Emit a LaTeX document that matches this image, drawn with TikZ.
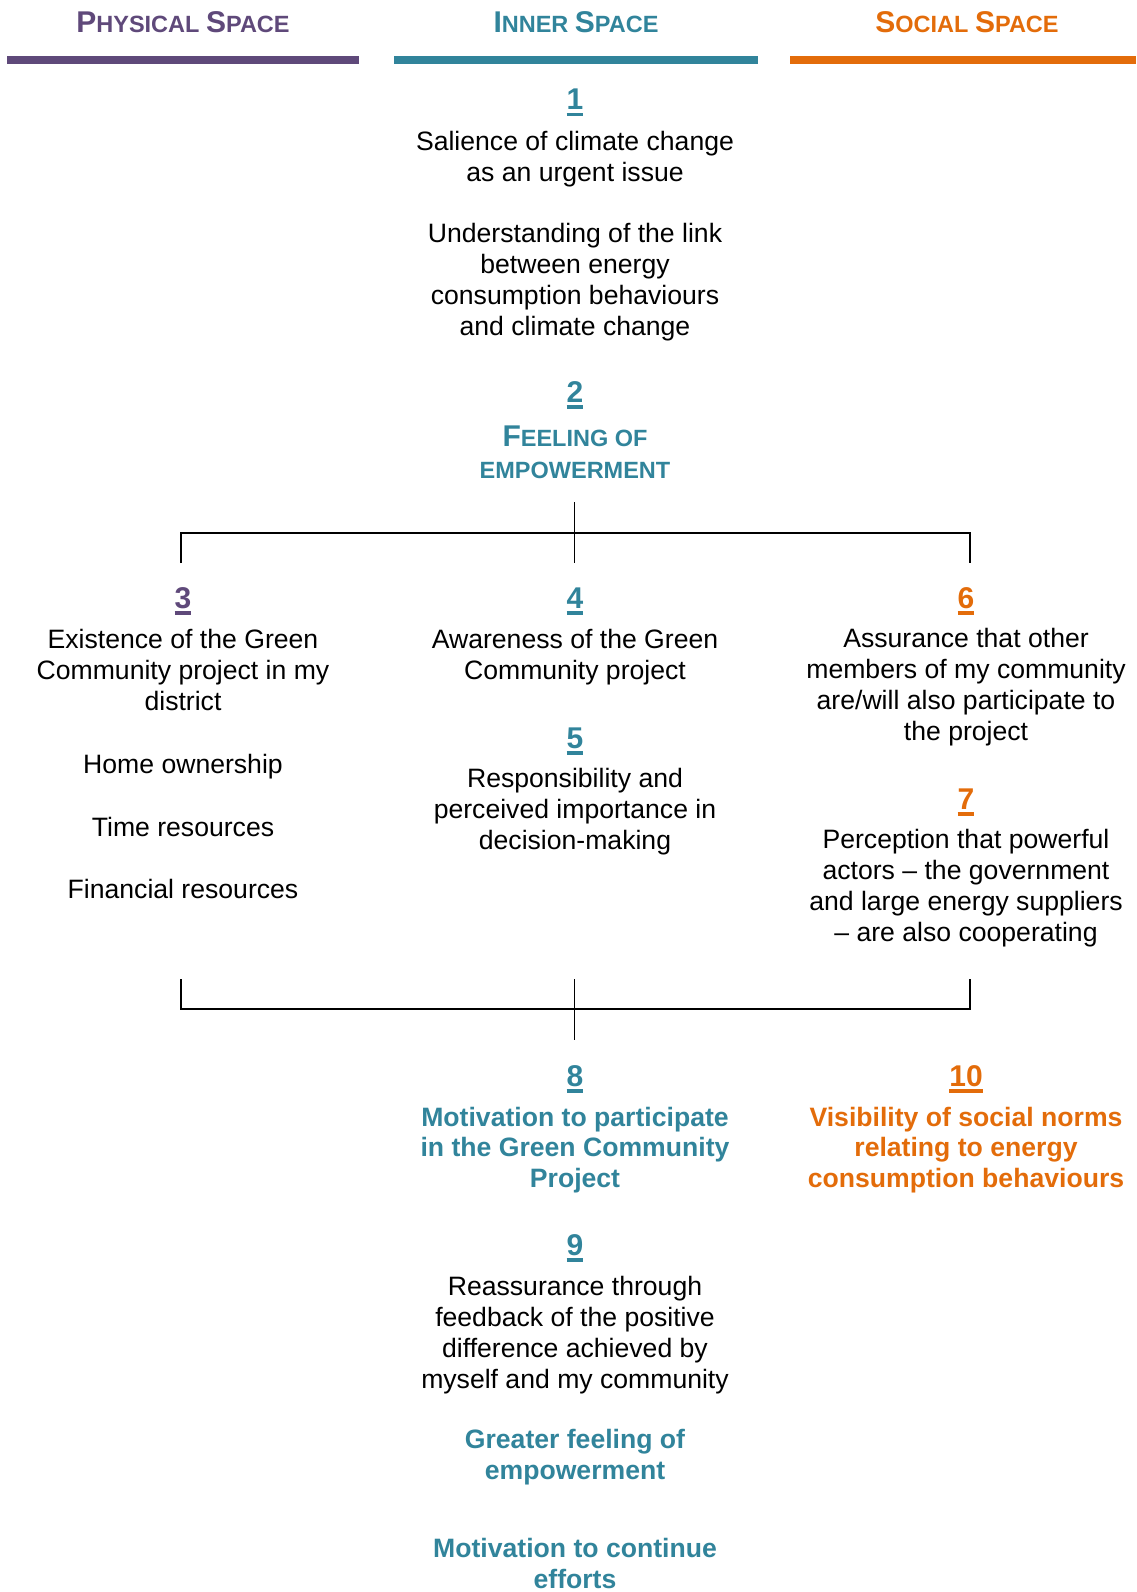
\documentclass[tikz,border=0pt]{standalone}
\usepackage{fontspec}
\setmainfont{Liberation Sans}
\definecolor{physical}{HTML}{5F497A}
\definecolor{inner}{HTML}{31849B}
\definecolor{social}{HTML}{E36C0A}
\newcommand{\smcap}[2]{{\fontsize{30}{32}\selectfont #1}{\fontsize{23.5}{32}\selectfont #2}}
\newcommand{\ulnum}[1]{\setbox0=\hbox{#1}\vtop{\copy0\kern3pt\hrule height 3.5pt width \wd0}}
\begin{document}
\begin{tikzpicture}[x=1pt,y=-1pt,
    txt/.style={font=\fontsize{26.6}{30.8}\selectfont, align=center, anchor=base, inner sep=0pt},
    strong/.style={txt, font=\fontsize{26.6}{30.4}\selectfont\bfseries},
    num/.style={txt, font=\fontsize{30}{32}\selectfont\bfseries},
    head/.style={txt, font=\fontsize{23.5}{32}\selectfont\bfseries},
    bar/.style={line width=8.5pt}]
  \useasboundingbox (0,0) rectangle (1136,1592);
  % headers
  \node[head, text=physical] (hphys) at (183,33) {\smcap{P}{HYSICAL} \smcap{S}{PACE}};
  \node[head, text=inner] (hinner) at (576,33) {\smcap{I}{NNER} \smcap{S}{PACE}};
  \node[head, text=social] (hsocial) at (967,33) {\smcap{S}{OCIAL} \smcap{S}{PACE}};
  \draw[bar, physical] (7,60) -- (359,60);
  \draw[bar, inner] (394,60) -- (758,60);
  \draw[bar, social] (790,60) -- (1136,60);
  % inner space, top (base = last line)
  \node[num, text=inner] (n1) at (575,110) {\ulnum{1}};
  \node[txt] (sal) at (575,181) {Salience of climate change\\as an urgent issue};
  \node[txt] (und) at (575,335) {Understanding of the link\\between energy\\consumption behaviours\\and climate change};
  \node[num, text=inner] (n2) at (575,402) {\ulnum{2}};
  \node[head, text=inner] (feel) at (575,446) {\smcap{F}{EELING} \smcap{}{OF}};
  \node[head, text=inner] (emp) at (575,478) {\smcap{}{EMPOWERMENT}};
  % split
  \coordinate (up2) at (574.5,502);
  \coordinate (dn3) at (181,563);
  \coordinate (dn4) at (574.5,563);
  \coordinate (dn6) at (970,563);
  \draw[line width=1.3pt] (dn3) -- ++(0,-30) -| (dn6);
  \draw[line width=1.3pt] (up2) -- (dn4);
  % physical space
  \node[num, text=physical] (n3) at (183,608) {\ulnum{3}};
  \node[txt] (exist) at (183,710) {Existence of the Green\\Community project in my\\district};
  \node[txt] (home) at (183,773) {Home ownership};
  \node[txt] (time) at (183,836) {Time resources};
  \node[txt] (fin) at (183,898) {Financial resources};
  % inner space
  \node[num, text=inner] (n4) at (575,608) {\ulnum{4}};
  \node[txt] (aware) at (575,679) {Awareness of the Green\\Community project};
  \node[num, text=inner] (n5) at (575,748) {\ulnum{5}};
  \node[txt] (resp) at (575,849) {Responsibility and\\perceived importance in\\decision-making};
  % social space
  \node[num, text=social] (n6) at (966,608) {\ulnum{6}};
  \node[txt] (assur) at (966,740) {Assurance that other\\members of my community\\are/will also participate to\\the project};
  \node[num, text=social] (n7) at (966,809) {\ulnum{7}};
  \node[txt] (perc) at (966,941) {Perception that powerful\\actors – the government\\and large energy suppliers\\– are also cooperating};
  % join
  \coordinate (lo3) at (181,979);
  \coordinate (lo4) at (574.5,979);
  \coordinate (lo6) at (970,979);
  \coordinate (lo8) at (574.5,1040);
  \draw[line width=1.3pt] (lo3) -- ++(0,30) -| (lo6);
  \draw[line width=1.3pt] (lo4) -- (lo8);
  % outcomes
  \node[num, text=inner] (n8) at (575,1086) {\ulnum{8}};
  \node[strong, text=inner] (motiv) at (575,1187) {Motivation to participate\\in the Green Community\\Project};
  \node[num, text=social] (n10) at (966,1086) {\ulnum{10}};
  \node[strong, text=social] (vis) at (966,1187) {Visibility of social norms\\relating to energy\\consumption behaviours};
  \node[num, text=inner] (n9) at (575,1255) {\ulnum{9}};
  \node[txt] (reas) at (575,1388) {Reassurance through\\feedback of the positive\\difference achieved by\\myself and my community};
  \node[strong, text=inner] (great) at (575,1479) {Greater feeling of\\empowerment};
  \node[strong, text=inner] (cont) at (575,1588) {Motivation to continue\\efforts};
\end{tikzpicture}
\end{document}
